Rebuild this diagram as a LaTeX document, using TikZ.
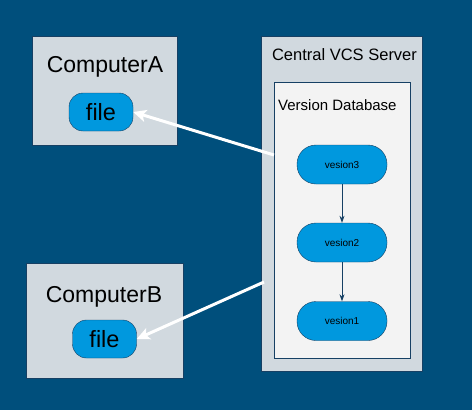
\documentclass[tikz,border=0pt]{standalone}
\usepackage{fontspec}
\setmainfont{Liberation Sans}
\usepackage{tikz}
\usetikzlibrary{positioning}
\usetikzlibrary{arrows.meta}

\definecolor{bgblue}{RGB}{0,79,124}
\definecolor{boxgray}{RGB}{209,217,223}
\definecolor{dbgray}{RGB}{243,243,243}
\definecolor{verblue}{RGB}{0,152,222}
\definecolor{edgeblue}{RGB}{22,64,100}

\tikzset{
    hostbox/.style={draw=edgeblue, fill=boxgray, inner sep=0pt},
    dbbox/.style={draw=edgeblue, fill=dbgray, inner sep=0pt},
    filenode/.style={draw=edgeblue, fill=verblue, rounded corners=14pt, minimum width=64pt, minimum height=38pt, inner sep=0pt, font=\fontsize{23.5}{25}\selectfont},
    vernode/.style={draw=edgeblue, fill=verblue, rounded corners=19pt, minimum width=90pt, minimum height=39pt, inner sep=0pt, font=\fontsize{10}{12}\selectfont},
    pushline/.style={draw=white, line width=3pt, -{Stealth[length=13pt, width=12pt, inset=3pt]}},
    verline/.style={draw=edgeblue, line width=0.8pt, -{Stealth[length=7pt, width=5pt]}}
}

\begin{document}
\begin{tikzpicture}[x=1pt, y=-1pt]
    % background
    \fill[bgblue] (0,0) rectangle (472,410);
    \useasboundingbox (0,0) rectangle (472,410);

    % bodies
    \node[hostbox, minimum width=145pt, minimum height=109pt] (compA) at (104.5,90.5) {};
    \node[hostbox, minimum width=157pt, minimum height=115pt] (compB) at (104.5,320.5) {};
    \node[hostbox, minimum width=161pt, minimum height=335pt] (server) at (341.5,203.5) {};
    \node[dbbox, minimum width=136pt, minimum height=276pt] (db) at (342,220.5) {};

    % Labels
    \node[anchor=base, font=\fontsize{23}{25}\selectfont] (titleA) at (105,72) {ComputerA};
    \node[anchor=base, font=\fontsize{23}{25}\selectfont] (titleB) at (104,302) {ComputerB};
    \node[anchor=base, font=\fontsize{16.5}{18}\selectfont] (titleS) at (344.5,60) {Central VCS Server};
    \node[anchor=base west, inner sep=0pt, font=\fontsize{15}{17}\selectfont] (titleD) at (278,110) {Version Database};

    % files
    \node[filenode] (fileA) at (101,112) {file};
    \node[filenode] (fileB) at (104.5,339) {file};

    % versions
    \node[vernode] (ver3) at (342,164.5) {vesion3};
    \node[vernode] (ver2) at (342,242.5) {vesion2};
    \node[vernode] (ver1) at (342,321) {vesion1};

    \draw[verline] (ver3) -- (ver2);
    \draw[verline] (ver2) -- (ver1);

    % checkouts
    \coordinate (outA) at (274,155);
    \coordinate (outB) at (264,282);
    \draw[pushline] (outA) -- (fileA.east);
    \draw[pushline] (outB) -- (fileB.east);

\end{tikzpicture}
\end{document}
